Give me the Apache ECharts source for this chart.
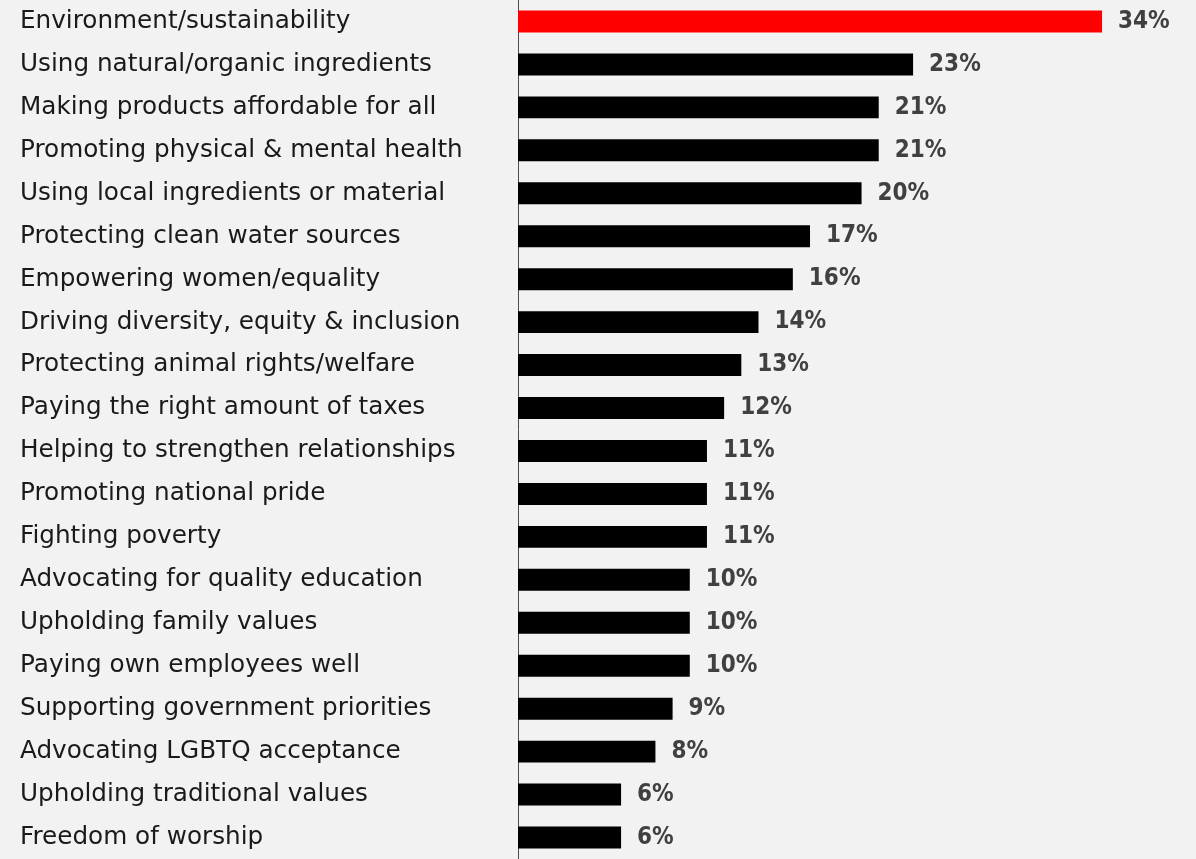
<!DOCTYPE html>
<html>
<head>
<meta charset="utf-8">
<style>
  html, body { margin: 0; padding: 0; background: #f2f2f2; }
  #chart { width: 1196px; height: 859px; }
</style>
<script src="https://cdn.jsdelivr.net/npm/echarts@6/dist/echarts.min.js"></script>
</head>
<body>
<div id="chart"></div>
<script>
// Causes, listed top to bottom
const causes = [
  'Environment/sustainability',
  'Using natural/organic ingredients',
  'Making products affordable for all',
  'Promoting physical & mental health',
  'Using local ingredients or material',
  'Protecting clean water sources',
  'Empowering women/equality',
  'Driving diversity, equity & inclusion',
  'Protecting animal rights/welfare',
  'Paying the right amount of taxes',
  'Helping to strengthen relationships',
  'Promoting national pride',
  'Fighting poverty',
  'Advocating for quality education',
  'Upholding family values',
  'Paying own employees well',
  'Supporting government priorities',
  'Advocating LGBTQ acceptance',
  'Upholding traditional values',
  'Freedom of worship'
];

// Share of respondents, percent
const shares = [34, 23, 21, 21, 20, 17, 16, 14, 13, 12, 11, 11, 11, 10, 10, 10, 9, 8, 6, 6];

const topColor = '#ff0000';
const barColor = '#000000';

const chart = echarts.init(document.getElementById('chart'), null, { renderer: 'canvas' });

chart.setOption({
  backgroundColor: '#f2f2f2',
  animation: false,
  grid: { left: 518, top: 0, width: 618.4, height: 863, containLabel: false },
  xAxis: {
    type: 'value',
    min: 0,
    max: 36,
    show: false
  },
  yAxis: {
    type: 'category',
    inverse: true,
    data: causes,
    axisLine: { show: true, lineStyle: { color: '#4d4d4d', width: 1 } },
    axisTick: { show: false },
    axisLabel: {
      align: 'left',
      margin: 498,
      color: '#1a1a1a',
      fontFamily: 'DejaVu Sans, sans-serif',
      fontSize: 24.7
    }
  },
  series: [{
    type: 'bar',
    data: shares.map((v, i) => ({
      value: v,
      itemStyle: { color: i === 0 ? topColor : barColor }
    })),
    barCategoryGap: '49%',
    label: {
      show: true,
      position: 'right',
      distance: 16,
      formatter: p => p.value + '%',
      color: '#404040',
      fontFamily: 'DejaVu Sans Condensed, sans-serif',
      fontWeight: 'bold',
      fontSize: 24
    }
  }]
});
</script>
</body>
</html>
